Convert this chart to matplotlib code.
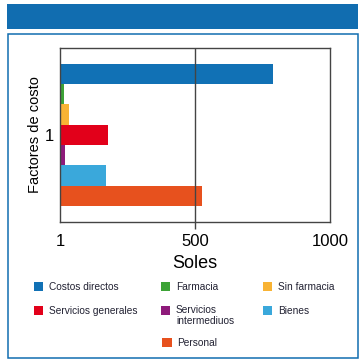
import matplotlib
matplotlib.use("Agg")
import matplotlib.pyplot as plt
from matplotlib.patches import Rectangle

plt.rcParams['font.family'] = ['Liberation Sans', 'DejaVu Sans']

# Data
categorias = ["Costos directos", "Farmacia", "Sin farmacia", "Servicios generales",
              "Servicios\nintermediuos", "Bienes", "Personal"]
valores = [790, 15, 35, 180, 18, 172, 527]
colores = ["#1171B5", "#3CA336", "#F8B334", "#E2001A", "#8E1A7A", "#3AA8DB", "#E7511E"]
x_ticks = [1, 500, 1000]
x_labels = ["1", "500", "1000"]

W, H = 361, 364
fig = plt.figure(figsize=(W / 100, H / 100), dpi=100)

def fx(px):
    return px / W

def fy(py):
    return 1 - py / H

# banner and frame
fig.add_artist(Rectangle((fx(7), fy(29)), fx(351), 25 / H, transform=fig.transFigure,
                         facecolor="#116DB0", edgecolor="none"))
fig.add_artist(Rectangle((fx(7.5), fy(358)), fx(350.5), 324 / H, transform=fig.transFigure,
                         facecolor="none", edgecolor="#116DB0", linewidth=1.1))

ax = fig.add_axes([fx(60), fy(221.7), fx(270), 173.7 / H])

h = 0.117
n = len(valores)
for i, (v, c) in enumerate(zip(valores, colores)):
    ax.barh(1 + (n // 2 - i) * h, v, height=h, color=c, left=0)

ax.set_xlim(x_ticks[0], x_ticks[-1])
ax.set_ylim(0.5, 1.5)

ax.set_xticks([x_ticks[1]])
ax.set_xticklabels([x_labels[1]])
ax.set_xticks([x_ticks[0], x_ticks[2]], minor=True)
ax.set_xticklabels([x_labels[0], x_labels[2]], minor=True)
ax.tick_params(axis="x", which="major", length=5, width=1, color="#444444",
               labelsize=12, pad=4)
ax.tick_params(axis="x", which="minor", length=0, labelsize=12, pad=9)
ax.set_yticks([1])
ax.set_yticklabels(["1"])
ax.tick_params(axis="y", length=0, labelsize=12, pad=4)
ax.grid(axis="x", which="major", color="#444444", linewidth=1)
ax.set_axisbelow(False)
for s in ax.spines.values():
    s.set_color("#444444")
    s.set_linewidth(1)

ax.set_xlabel("Soles", fontsize=13, labelpad=4)
ax.set_ylabel("Factores de costo", fontsize=10.5, labelpad=2)

# legend drawn by hand
col_x = [34, 161, 263]
row_y = [286.7, 310.7]
pos = [(0, 0), (1, 0), (2, 0), (0, 1), (1, 1), (2, 1)]
for (cx, ry), lab, c in zip(pos, categorias[:6], colores[:6]):
    x0 = col_x[cx]
    y0 = row_y[ry]
    fig.add_artist(Rectangle((fx(x0), fy(y0 + 4.5)), fx(9), 9 / H,
                             transform=fig.transFigure, facecolor=c, edgecolor="none"))
    if "\n" in lab:
        fig.text(fx(x0 + 15), fy(y0 - 5.5), lab, fontsize=7.3, va="top", ha="left",
                 color="#222233", linespacing=1.05)
    else:
        fig.text(fx(x0 + 15), fy(y0), lab, fontsize=7.3, va="center", ha="left",
                 color="#222233")
fig.add_artist(Rectangle((fx(162), fy(342.7 + 4.5)), fx(9.5), 9 / H,
                         transform=fig.transFigure, facecolor=colores[6], edgecolor="none"))
fig.text(fx(177), fy(342.7), categorias[6], fontsize=7.3, va="center", ha="left",
         color="#222233")

fig.savefig("out.png", dpi=100)
